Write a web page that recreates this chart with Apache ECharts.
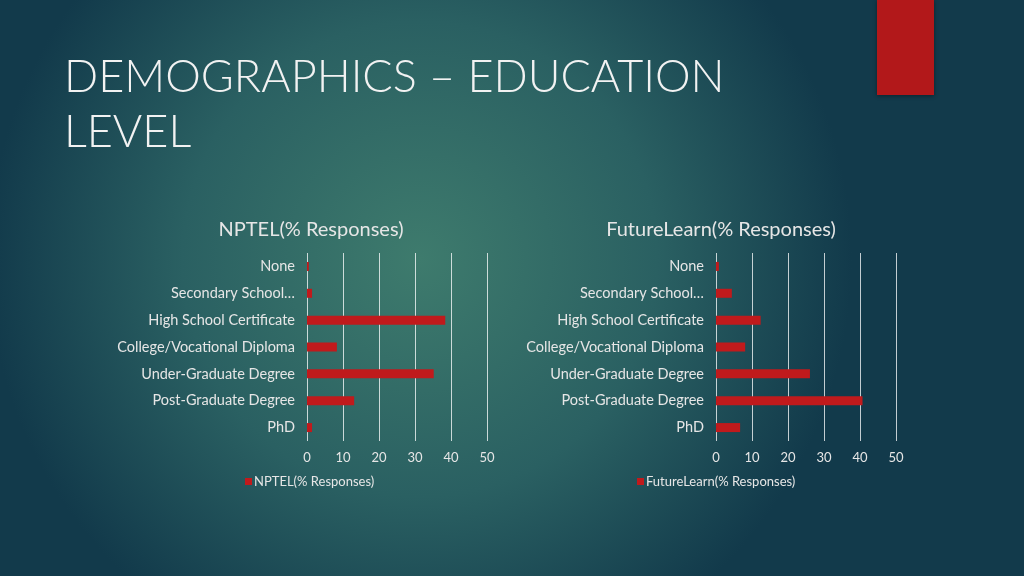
<!DOCTYPE html>
<html><head><meta charset="utf-8">
<script src="https://cdn.jsdelivr.net/npm/echarts@6/dist/echarts.min.js"></script>
<style>html,body{margin:0;padding:0;width:1024px;height:576px;overflow:hidden}#c{width:1024px;height:576px}</style>
</head><body><div id="c"></div>
<script>
var categories = ['None','Secondary School…','High School Certificate','College/Vocational Diploma','Under-Graduate Degree','Post-Graduate Degree','PhD'];
var nptelValues = [0.5, 1.4, 38.4, 8.3, 35.2, 13.1, 1.4];
var futureLearnValues = [0.8, 4.4, 12.4, 8.1, 26.1, 40.7, 6.7];
var xTicks = [0, 10, 20, 30, 40, 50];
var seriesNames = ['NPTEL(% Responses)', 'FutureLearn(% Responses)'];

var FONT = 'Lato, "DejaVu Sans", sans-serif';
var txt = '#e6e6e6';
var barColor = '#c01a1c';

function xAxis(i){
  return {gridIndex:i, type:'value', min:xTicks[0], max:xTicks[xTicks.length-1], interval:10,
    axisLine:{show:false}, axisTick:{show:false},
    axisLabel:{color:txt, fontSize:13, fontFamily:FONT, margin:10},
    splitLine:{show:true, lineStyle:{color:'rgba(255,255,255,0.75)', width:1}}};
}
function yAxis(i){
  return {gridIndex:i, type:'category', data:categories, inverse:true,
    axisLine:{show:false}, axisTick:{show:false},
    axisLabel:{color:txt, fontSize:14.5, fontFamily:FONT, margin:12}};
}
var chart = echarts.init(document.getElementById('c'));
chart.setOption({
  backgroundColor:{type:'radial', x:0.41, y:0.45, r:0.75,
    colorStops:[{offset:0,color:'#3e7b6d'},{offset:0.55,color:'#2a6062'},{offset:1,color:'#123a4b'}]},
  title:[
    {text:'DEMOGRAPHICS – EDUCATION\nLEVEL', left:59, top:45,
     textStyle:{color:'#f2f2f2', fontSize:45, fontWeight:300, fontFamily:FONT, lineHeight:55}},
    {text:seriesNames[0], left:306, top:215, textAlign:'center',
     textStyle:{color:txt, fontSize:20, fontWeight:'normal', fontFamily:FONT}},
    {text:seriesNames[1], left:716, top:215, textAlign:'center',
     textStyle:{color:txt, fontSize:20, fontWeight:'normal', fontFamily:FONT}}
  ],
  legend:[
    {data:[seriesNames[0]], left:240, top:470, itemWidth:7, itemHeight:7, icon:'rect',
     textStyle:{color:txt, fontSize:13, fontFamily:FONT, padding:[0,0,0,-3]}},
    {data:[seriesNames[1]], left:632, top:470, itemWidth:7, itemHeight:7, icon:'rect',
     textStyle:{color:txt, fontSize:13, fontFamily:FONT, padding:[0,0,0,-3]}}
  ],
  grid:[
    {left:307, top:253, width:180, height:188},
    {left:716, top:253, width:180, height:188}
  ],
  xAxis:[xAxis(0), xAxis(1)],
  yAxis:[yAxis(0), yAxis(1)],
  series:[
    {name:seriesNames[0], type:'bar', xAxisIndex:0, yAxisIndex:0, data:nptelValues, barWidth:9,
     itemStyle:{color:barColor}, silent:true},
    {name:seriesNames[1], type:'bar', xAxisIndex:1, yAxisIndex:1, data:futureLearnValues, barWidth:9,
     itemStyle:{color:barColor}, silent:true}
  ],
  graphic:[
    {type:'rect', shape:{x:877, y:0, width:57, height:95}, style:{fill:'#b2181a', shadowBlur:4, shadowColor:'rgba(0,0,0,0.4)', shadowOffsetY:1}}
  ],
  animation:false
});
</script></body></html>
